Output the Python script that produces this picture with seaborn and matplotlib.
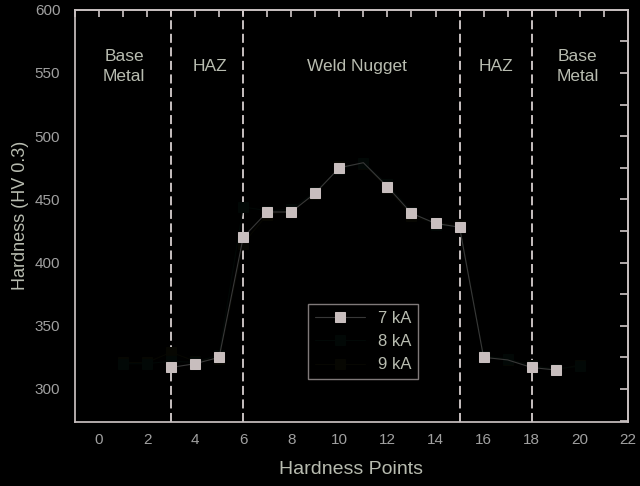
import matplotlib
matplotlib.use('Agg')
import matplotlib.pyplot as plt
import seaborn as sns

# hardness traverse across the spot weld (HV 0.3)
points_7ka = list(range(3, 20))
hv_7ka = [317, 320, 325, 420, 440, 440, 455, 475, 479, 460, 439, 431, 428, 325, 323, 317, 315]
points_8ka = list(range(1, 21))
hv_8ka = [320, 320, 322, 321, 327, 444, 441, 442, 456, 474, 479, 462, 440, 430, 428, 326, 324, 318, 316, 318]
points_9ka = list(range(1, 21))
hv_9ka = [321, 321, 329, 322, 324, 415, 438, 441, 454, 476, 478, 459, 437, 431, 430, 326, 323, 319, 315, 319]

zone_edges = [3, 6, 15, 18]
zone_names = ['Base\nMetal', 'HAZ', 'Weld Nugget', 'HAZ', 'Base\nMetal']
zone_x = [1.05, 4.6, 10.75, 16.5, 19.9]
zone_y = [555, 555, 555, 555, 555]

sns.set_theme(style='dark')
fg = '#c8c0c0'
txt = '#b8bcb0'
plt.rcParams.update({
    'figure.facecolor': 'black', 'axes.facecolor': 'black',
    'axes.edgecolor': fg, 'text.color': txt, 'axes.labelcolor': txt,
    'xtick.color': fg, 'ytick.color': fg,
    'xtick.labelcolor': '#a0a0a0', 'ytick.labelcolor': '#a0a0a0',
})
plt.rcParams['font.family'] = ['Liberation Sans', 'DejaVu Sans']

fig = plt.figure(figsize=(6.4, 4.86), dpi=100)
ax = fig.add_axes([0.117, 0.132, 0.864, 0.848])

sns.lineplot(x=points_9ka, y=hv_9ka, ax=ax, color='#070702', lw=0.8,
             marker='s', markersize=7, markeredgecolor='#070702', label='9 kA')
sns.lineplot(x=points_8ka, y=hv_8ka, ax=ax, color='#020806', lw=0.8,
             marker='s', markersize=7, markeredgecolor='#020806', label='8 kA')
shown = [i for i, p in enumerate(points_7ka) if p not in (11, 17)]
sns.lineplot(x=points_7ka, y=hv_7ka, ax=ax, color='#383838', lw=0.8,
             marker='s', markersize=7, markerfacecolor='#c8bebe',
             markeredgecolor='#c8bebe', markevery=shown, label='7 kA', zorder=5)

for xe in zone_edges:
    ax.axvline(xe, color='#d8d0d0', lw=1.3, dashes=(5, 2.5), zorder=1)
for name, zx, zy in zip(zone_names, zone_x, zone_y):
    ax.text(zx, zy, name, ha='center', va='center', fontsize=12.5, color=txt,
            linespacing=1.45)

ax.set_xlim(-1, 22)
ax.set_ylim(274, 600)
ax.set_xticks(range(0, 23, 2))
ax.set_xticks(range(-1, 23, 1), minor=True)
ax.set_yticks(range(300, 601, 50))
ax.set_yticks(range(275, 601, 25), minor=True)
ax.tick_params(which='both', direction='out', length=4, width=1, labelsize=11)
ax.tick_params(axis='y', which='major', length=7)
ax.tick_params(axis='x', pad=4)

top = ax.secondary_xaxis('top')
top.set_xticks(range(-1, 23, 1))
top.tick_params(direction='in', length=5, labeltop=False, color=fg)
right = ax.secondary_yaxis('right')
right.set_yticks(range(275, 601, 25))
right.tick_params(direction='in', length=6, labelright=False, color=fg)

for sp in ax.spines.values():
    sp.set_color(fg)
    sp.set_visible(True)
for sec in (top, right):
    for sp in sec.spines.values():
        sp.set_color(fg)

ax.set_xlabel('Hardness Points', fontsize=14, labelpad=10)
ax.set_ylabel('Hardness (HV 0.3)', fontsize=13, labelpad=4)
ax.grid(False)

h, l = ax.get_legend_handles_labels()
order = [l.index('7 kA'), l.index('8 kA'), l.index('9 kA')]
leg = ax.legend([h[i] for i in order], [l[i] for i in order],
                loc='upper left', bbox_to_anchor=(0.407, 0.306),
                fontsize=12, handlelength=3.0, labelspacing=0.5,
                facecolor='black', edgecolor='#a09898', fancybox=False,
                labelcolor=txt, borderpad=0.4)
leg.get_frame().set_linewidth(1.0)

fig.savefig('out.png', dpi=100, facecolor='black')
